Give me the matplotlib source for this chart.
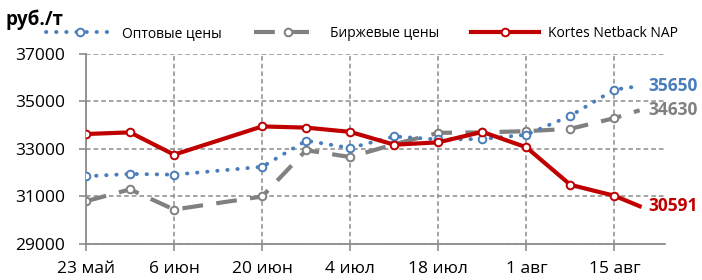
import numpy as np
import matplotlib
matplotlib.use("Agg")
import matplotlib.pyplot as plt

plt.rcParams['font.family'] = ['Open Sans', 'DejaVu Sans']

# --- Data ---
days = [0, 7, 14, 28, 35, 42, 49, 56, 63, 70, 77, 84, 88]   # days since 23 May
wholesale = [31850, 31950, 31920, 32250, 33350, 33040, 33530, 33400, 33420, 33600, 34400, 35500, 35650]
exchange = [30800, 31300, 30450, 31000, 32950, 32660, 33200, 33680, 33700, 33750, 33850, 34300, 34630]
netback = [33630, 33700, 32760, 33950, 33900, 33720, 33180, 33280, 33720, 33070, 31490, 31030, 30591]
tick_days = [0, 14, 28, 42, 56, 70, 84]
tick_labels = ["23 май", "6 июн", "20 июн", "4 июл", "18 июл", "1 авг", "15 авг"]
names = ["Оптовые цены", "Биржевые цены", "Kortes Netback NAP"]

BLUE, GRAY, RED = "#4A7EBB", "#808080", "#C00000"

fig = plt.figure(figsize=(7.02, 2.8), dpi=100)
ax = fig.add_axes([0.1225, 0.1286, 0.8245, 0.6786])

mk = dict(marker="o", markersize=5.5, markerfacecolor="white", markeredgewidth=1.4,
          markevery=list(range(len(days) - 1)))

l1, = ax.plot(days, wholesale, color=BLUE, lw=2.8, linestyle=(0, (0.1, 2.5)),
              dash_capstyle="round", markeredgecolor=BLUE, zorder=3, **mk)
l2, = ax.plot(days, exchange, color=GRAY, lw=3, linestyle=(0, (5, 3.2)),
              markeredgecolor=GRAY, zorder=2, **mk)
l3, = ax.plot(days, netback, color=RED, lw=3, markeredgecolor=RED, zorder=4, **mk)

# end labels
for vals, col in [(wholesale, BLUE), (exchange, GRAY), (netback, RED)]:
    ax.annotate(str(vals[-1]), (days[-1], vals[-1]), xytext=(6, 0), textcoords="offset points",
                color=col, fontsize=12.5, fontweight="bold", va="center", ha="left",
                annotation_clip=False)

ax.set_xlim(0, 92)
ax.set_ylim(29000, 37000)
ax.set_yticks(np.arange(29000, 37001, 2000))
ax.set_xticks(tick_days)
ax.set_xticklabels(tick_labels)
ax.grid(True, color="#8c8c8c", linestyle=(0, (3, 2)), linewidth=1.1)
ax.set_axisbelow(True)
for s in ["top", "right"]:
    ax.spines[s].set_visible(False)
for s in ["left", "bottom"]:
    ax.spines[s].set_color("#8c8c8c")
    ax.spines[s].set_linewidth(1.3)
ax.tick_params(axis="both", direction="out", length=5, color="#8c8c8c", width=1.2,
               labelsize=12.5)
ax.tick_params(axis="y", pad=10)
ax.tick_params(axis="x", pad=7)

fig.text(0.008, 0.965, "руб./т", fontsize=13.5, fontweight="bold", va="top", ha="left")

fig.legend([l1, l2, l3], names, loc="center", bbox_to_anchor=(0.515, 0.882), ncol=3,
           frameon=False, fontsize=10, handlelength=4.9, columnspacing=2.3,
           handletextpad=0.6)

fig.savefig("out.png", dpi=100)
